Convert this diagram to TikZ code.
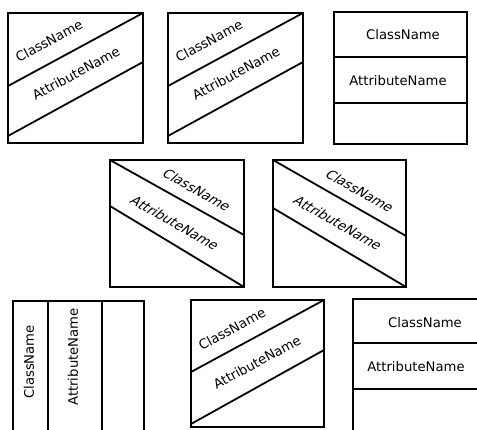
\documentclass[tikz,border=0pt]{standalone}
\usepackage{fontspec}
\setmainfont{DejaVu Sans}
\begin{document}
\begin{tikzpicture}[x=1pt,y=-1pt,
  boxline/.style={line width=1.8pt},
  lbl/.style={font=\fontsize{13.2}{15}\selectfont, inner sep=0pt, transform shape},
  lblup/.style={lbl, rotate=28.4},
  lbldown/.style={lbl, rotate=-29.2, xslant=0.3},
  lblh/.style={lbl},
  lblv/.style={lbl, rotate=90}]
\useasboundingbox (0,0) rectangle (477,430);
\clip (0,0) rectangle (477,430);
% Box 1
\draw[boxline] (8,13) rectangle (143,143);
\draw[boxline] (8,86) -- (143,13);
\draw[boxline] (8,136) -- (143,62);
\node[lblup] (c1) at (49,41) {ClassName};
\node[lblup] (a1) at (76,73) {AttributeName};
% Box 2
\draw[boxline] (168,13) rectangle (303,143);
\draw[boxline] (168,86) -- (303,13);
\draw[boxline] (168,136) -- (303,62);
\node[lblup] (c2) at (209,41) {ClassName};
\node[lblup] (a2) at (236,73) {AttributeName};
% Box 3
\draw[boxline] (334,12) rectangle (467,144);
\draw[boxline] (334,57) -- (467,57);
\draw[boxline] (334,103) -- (467,103);
\node[lblh] (c3) at (403,35) {ClassName};
\node[lblh] (a3) at (398,81) {AttributeName};
% Box 4
\draw[boxline] (110,160) rectangle (244,287);
\draw[boxline] (110,160) -- (244,235);
\draw[boxline] (110,206) -- (244,287);
\node[lbldown] (c4) at (197,190) {ClassName};
\node[lbldown] (a4) at (175,223) {AttributeName};
% Box 5
\draw[boxline] (273,160) rectangle (406,287);
\draw[boxline] (273,160) -- (406,236);
\draw[boxline] (273,208) -- (406,287);
\node[lbldown] (c5) at (360,191) {ClassName};
\node[lbldown] (a5) at (338,223) {AttributeName};
% Box 6
\draw[boxline] (13,301) rectangle (144,445);
\draw[boxline] (48,301) -- (48,445);
\draw[boxline] (102,301) -- (102,445);
\node[lblv] (c6) at (29,362) {ClassName};
\node[lblv] (a6) at (73,357) {AttributeName};
% Box 7
\draw[boxline] (191,300) rectangle (324,427);
\draw[boxline] (191,372) -- (324,300);
\draw[boxline] (191,424) -- (324,350);
\node[lblup] (c7) at (232,329) {ClassName};
\node[lblup] (a7) at (257,362) {AttributeName};
% Box 8
\draw[boxline] (353,299) rectangle (495,445);
\draw[boxline] (353,343) -- (495,343);
\draw[boxline] (353,389) -- (495,389);
\node[lblh] (c8) at (425,323) {ClassName};
\node[lblh] (a8) at (416,367) {AttributeName};
\end{tikzpicture}
\end{document}
